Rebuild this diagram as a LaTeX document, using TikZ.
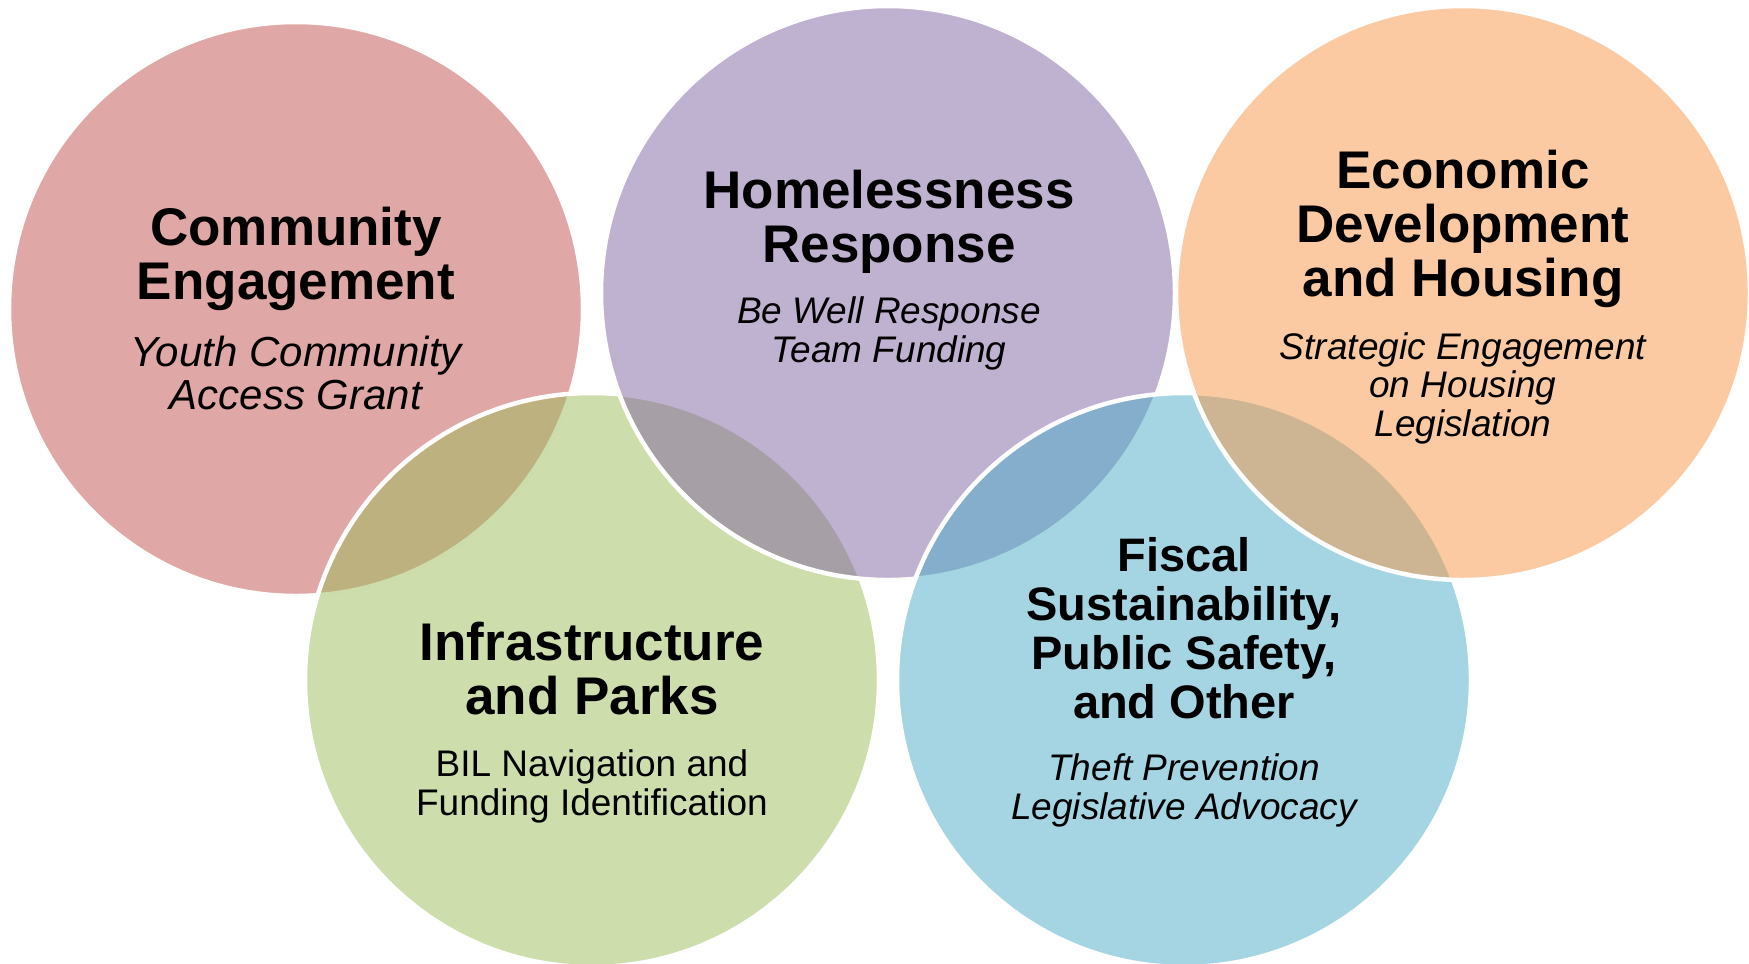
\documentclass[tikz,border=0pt]{standalone}
\usepackage{fontspec}
\setmainfont{Liberation Sans}
\usepackage{tikz}
\usetikzlibrary{positioning}
\definecolor{engagered}{HTML}{C0504D}
\definecolor{shelterpurple}{HTML}{8064A2}
\definecolor{housingorange}{HTML}{F79646}
\definecolor{parksgreen}{HTML}{9BBB59}
\definecolor{fiscalblue}{HTML}{4BACC6}

\begin{document}
\begin{tikzpicture}[x=1pt,y=-1pt,
    bubble/.style={circle,minimum size=574pt,inner sep=0pt,fill opacity=0.5,draw=white,line width=4.5pt},
    heading/.style={anchor=base,align=center,font=\fontsize{53}{54}\selectfont\bfseries},
    subline/.style={anchor=base,align=center,font=\fontsize{37}{38.5}\selectfont\itshape}]
    \useasboundingbox (0,0) rectangle (1749,964);
    \node[bubble,fill=engagered] (engage) at (296,309) {};
    \node[bubble,fill=parksgreen] (parks) at (592,680) {};
    \node[bubble,fill=shelterpurple] (shelter) at (888,293) {};
    \node[bubble,fill=fiscalblue] (fiscal) at (1184,680) {};
    \node[bubble,fill=housingorange] (housing) at (1463,293) {};
    \node[heading] (engage-title) at (296,299) {Community\\Engagement};
    \node[subline,font=\fontsize{42}{42.5}\selectfont\itshape] (engage-sub) at (296,409) {Youth Community\\Access Grant};
    \node[heading] (shelter-title) at (889,262) {Homelessness\\Response};
    \node[subline] (shelter-sub) at (889,362) {Be Well Response\\Team Funding};
    \node[heading] (housing-title) at (1463,296) {Economic\\Development\\and Housing};
    \node[subline] (housing-sub) at (1463,436) {Strategic Engagement\\on Housing\\Legislation};
    \node[heading] (parks-title) at (592,714) {Infrastructure\\and Parks};
    \node[subline,font=\fontsize{37}{38.5}\selectfont] (parks-sub) at (592,815) {BIL Navigation and\\Funding Identification};
    \node[heading,font=\fontsize{47}{48.7}\selectfont\bfseries] (fiscal-title) at (1184,718) {Fiscal\\Sustainability,\\Public Safety,\\and Other};
    \node[subline] (fiscal-sub) at (1184,819) {Theft Prevention\\Legislative Advocacy};
\end{tikzpicture}
\end{document}
